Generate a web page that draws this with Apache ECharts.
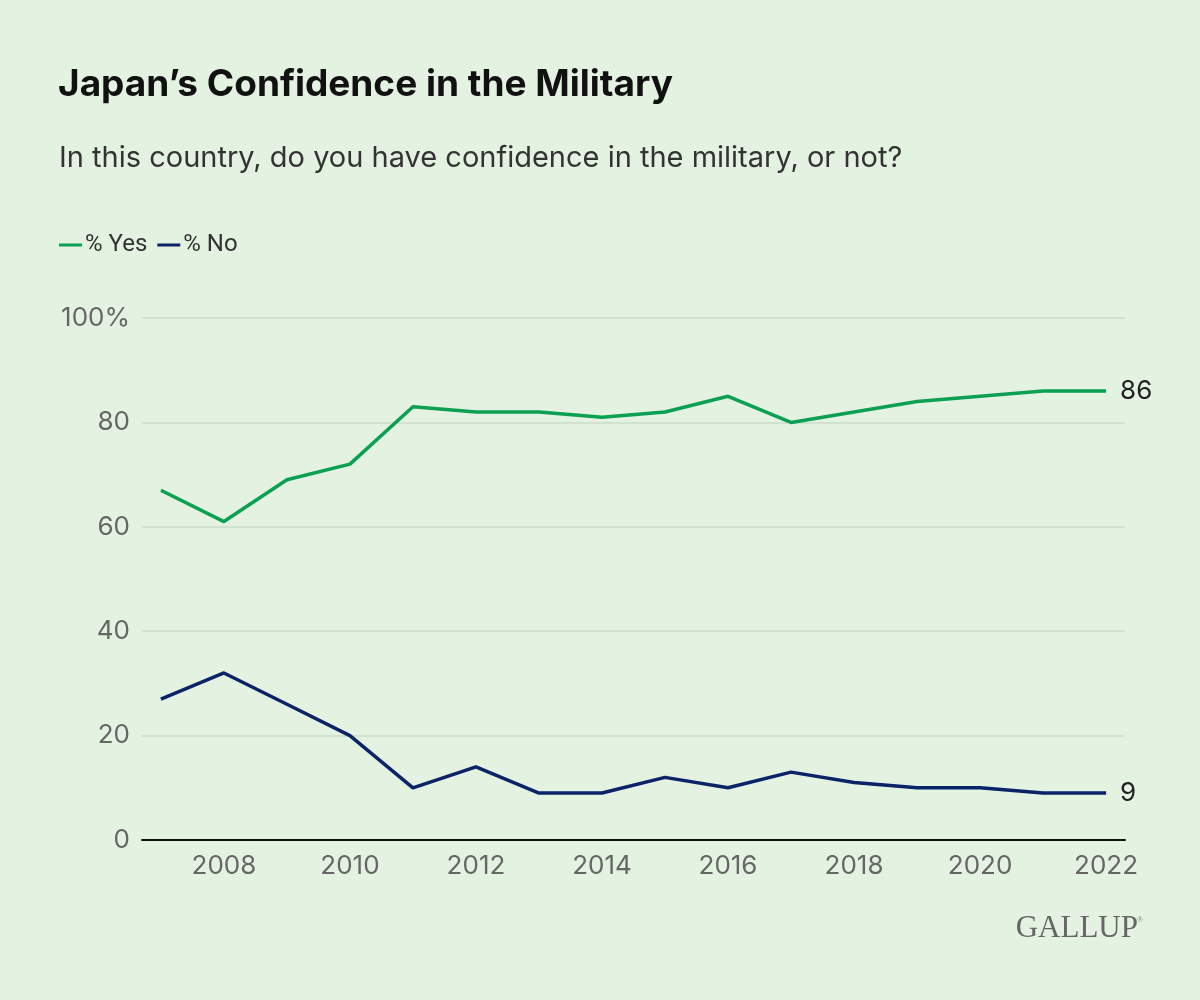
<!DOCTYPE html>
<html><head><meta charset="utf-8">
<script src="https://cdn.jsdelivr.net/npm/echarts@6/dist/echarts.min.js"></script>
<style>html,body{margin:0;padding:0;background:#e4f2e1}#c{width:1200px;height:1000px}</style>
</head><body><div id="c"></div>
<script>
const years = [2007,2008,2009,2010,2011,2012,2013,2014,2015,2016,2017,2018,2019,2020,2021,2022];
const yesValues = [67,61,69,72,83,82,82,81,82,85,80,82,84,85,86,86];
const noValues = [27,32,26,20,10,14,9,9,12,10,13,11,10,10,9,9];
const xTickLabels = [2008,2010,2012,2014,2016,2018,2020,2022];
const yTicks = [0,20,40,60,80,100];

const chart = echarts.init(document.getElementById('c'));
const font = 'Inter, Roboto, "Noto Sans", sans-serif';
const legendFont = 'Roboto, "Noto Sans", sans-serif';
function mk(name, vals, color){
  return {
    name, type:'line', data: years.map((y,i)=>[y, vals[i]]),
    showSymbol:false, symbol:'none',
    lineStyle:{color, width:3.5}, itemStyle:{color},
    endLabel:{show:true, formatter:p=>String(p.value[1]), color:'#222', fontSize:26, fontFamily:font, distance:14},
    emphasis:{disabled:true}
  };
}
chart.setOption({
  backgroundColor:'#e4f2e1',
  animation:false,
  title:[{text:'Japan’s Confidence in the Military', left:53, top:61,
    textStyle:{fontSize:37, fontWeight:'bold', color:'#111', fontFamily:font}},
    {text:'In this country, do you have confidence in the military, or not?', left:54, top:139,
    textStyle:{fontSize:29, fontWeight:'normal', color:'#333', fontFamily:font}}],
  legend:{left:54, top:228, icon:'rect', itemWidth:23, itemHeight:3, itemGap:10,
    textStyle:{fontSize:24, color:'#333', fontFamily:legendFont, padding:[0,0,0,-2]},
    data:['% Yes','% No']},
  grid:{left:142, right:75, top:318, bottom:160, containLabel:false},
  xAxis:{type:'value', min:2006.7, max:2022.3,
    axisLine:{show:true, lineStyle:{color:'#111', width:2}},
    axisTick:{show:false}, splitLine:{show:false},
    axisLabel:{customValues:xTickLabels, color:'#666', fontSize:26, fontFamily:font, margin:13, formatter:v=>String(v)}},
  yAxis:{type:'value', min:0, max:100, interval:20,
    axisLine:{show:false}, axisTick:{show:false},
    splitLine:{lineStyle:{color:'#cbdccb', width:1.5}},
    axisLabel:{color:'#666', fontSize:26, fontFamily:font, margin:12, formatter:v=>v===100?'100%':String(v)}},
  graphic:[{type:'text', right:62, top:913, style:{text:'GALLUP', font:'31px "Liberation Serif", "DejaVu Serif", serif', fill:'#666'}},
           {type:'text', right:57, top:916, style:{text:'®', font:'8px "Liberation Serif", serif', fill:'#888'}}],
  series:[mk('% Yes', yesValues, '#0ba052'), mk('% No', noValues, '#0b2468')]
});
</script></body></html>
